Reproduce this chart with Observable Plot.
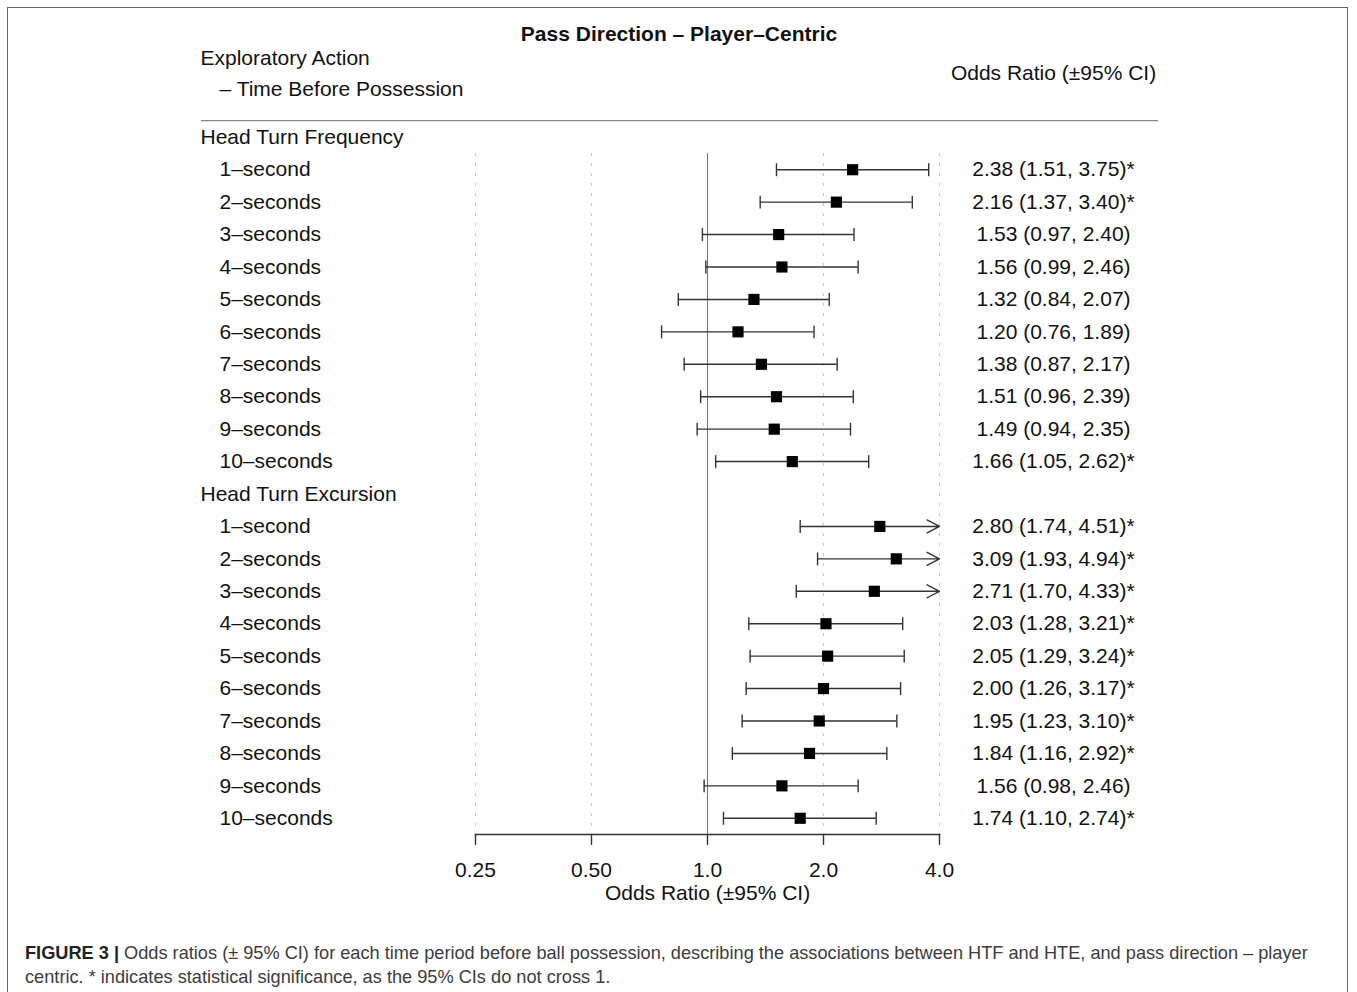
<!DOCTYPE html>
<html>
<head>
<meta charset="utf-8">
<script src="https://cdn.jsdelivr.net/npm/d3@7"></script>
<script src="https://cdn.jsdelivr.net/npm/@observablehq/plot@0.6"></script>
<style>
  html, body { margin: 0; padding: 0; background: #fff; width: 1357px; height: 992px; overflow: hidden; }
  #frame { position: absolute; left: 7px; top: 7px; width: 1341px; height: 1000px; border: 1px solid #666; box-sizing: border-box; }
  #chart { position: absolute; left: 0; top: 0; }
  #caption { position: absolute; left: 25px; top: 941px; font-family: "Liberation Sans", Arial, sans-serif; font-size: 18.2px; line-height: 24px; color: #3c3c3c; white-space: nowrap; }
  #caption b { color: #222; }
</style>
</head>
<body>
<div id="frame"></div>
<div id="chart"></div>
<div id="caption"><b>FIGURE 3 |</b> Odds ratios (± 95% CI) for each time period before ball possession, describing the associations between HTF and HTE, and pass direction – player<br>centric. * indicates statistical significance, as the 95% CIs do not cross 1.</div>
<script>
// ---- Data ----
const title = "Pass Direction – Player–Centric";
const leftHeader = ["Exploratory Action", "– Time Before Possession"];
const rightHeader = "Odds Ratio (±95% CI)";
const groups = ["Head Turn Frequency", "Head Turn Excursion"];
const periods = ["1–second", "2–seconds", "3–seconds", "4–seconds", "5–seconds",
                 "6–seconds", "7–seconds", "8–seconds", "9–seconds", "10–seconds"];
const htfOR    = [2.38, 2.16, 1.53, 1.56, 1.32, 1.20, 1.38, 1.51, 1.49, 1.66];
const htfLower = [1.51, 1.37, 0.97, 0.99, 0.84, 0.76, 0.87, 0.96, 0.94, 1.05];
const htfUpper = [3.75, 3.40, 2.40, 2.46, 2.07, 1.89, 2.17, 2.39, 2.35, 2.62];
const hteOR    = [2.80, 3.09, 2.71, 2.03, 2.05, 2.00, 1.95, 1.84, 1.56, 1.74];
const hteLower = [1.74, 1.93, 1.70, 1.28, 1.29, 1.26, 1.23, 1.16, 0.98, 1.10];
const hteUpper = [4.51, 4.94, 4.33, 3.21, 3.24, 3.17, 3.10, 2.92, 2.46, 2.74];
const xDomain = [0.25, 4];
const tickValues = [0.25, 0.5, 1, 2, 4];
const tickLabels = ["0.25", "0.50", "1.0", "2.0", "4.0"];
const axisTitle = "Odds Ratio (±95% CI)";

// ---- Build rows ----
const series = [
  {group: groups[0], or: htfOR, lo: htfLower, hi: htfUpper},
  {group: groups[1], or: hteOR, lo: hteLower, hi: hteUpper}
];
const headerRows = [];
const dataRows = [];
let idx = 0;
for (const s of series) {
  headerRows.push({i: idx++, label: s.group});
  periods.forEach((p, k) => {
    const or = s.or[k], lo = s.lo[k], hi = s.hi[k];
    const sig = lo > 1 || hi < 1;
    dataRows.push({
      i: idx++, label: p, or, lo, hi,
      truncated: hi > xDomain[1],
      ci: `${or.toFixed(2)} (${lo.toFixed(2)}, ${hi.toFixed(2)})${sig ? "*" : ""}`
    });
  });
}
const nRows = idx;

const capSymbol = {
  draw(ctx, size) {
    const h = Math.sqrt(size) / 2;
    ctx.moveTo(0, -h);
    ctx.lineTo(0, h);
  }
};

const W = 1357, H = 915;
const mL = 475, mR = 418, mT = 153, mB = 81;
const ink = "#333";

const headerLine = (index, scales, values, dims) => {
  const y = scales.y(-0.5);
  return d3.create("svg:line")
    .attr("x1", dims.marginLeft - 274)
    .attr("x2", dims.width - dims.marginRight + 219)
    .attr("y1", y).attr("y2", y)
    .attr("stroke", "#888").attr("stroke-width", 1.2)
    .node();
};

const chart = Plot.plot({
  width: W, height: H,
  marginLeft: mL, marginRight: mR, marginTop: mT, marginBottom: mB,
  style: {fontFamily: "'Liberation Sans', Arial, Helvetica, sans-serif", fontSize: "21px", color: "#111", background: "transparent"},
  x: {type: "log", domain: xDomain},
  y: {domain: [0.5, nRows - 0.5], reverse: true, axis: null},
  marks: [
    // grid
    Plot.ruleX(tickValues.filter(v => v !== 1), {stroke: "#c8c8c8", strokeWidth: 1, strokeDasharray: "3,7"}),
    Plot.ruleX([1], {stroke: "#777", strokeWidth: 1.1}),
    // axis
    Plot.frame({anchor: "bottom", stroke: ink, strokeWidth: 1.4}),
    Plot.axisX({ticks: tickValues, tickFormat: (d) => tickLabels[tickValues.indexOf(d)], tickSize: 11, tickPadding: 17, fontSize: 21, stroke: ink, strokeWidth: 1.4, label: null}),
    Plot.text([axisTitle], {frameAnchor: "bottom", dy: 59, lineAnchor: "middle", fontSize: 21}),
    // CI lines
    Plot.ruleY(dataRows.filter(d => !d.truncated), {y: "i", x1: "lo", x2: "hi", stroke: ink, strokeWidth: 1.4}),
    Plot.arrow(dataRows.filter(d => d.truncated), {x1: "lo", x2: () => xDomain[1], y1: "i", y2: "i", stroke: ink, strokeWidth: 1.4, headLength: 15, headAngle: 55}),
    Plot.dot(dataRows, {x: "lo", y: "i", symbol: capSymbol, r: 7.3, stroke: ink, strokeWidth: 1.4, fill: "none"}),
    Plot.dot(dataRows.filter(d => !d.truncated), {x: "hi", y: "i", symbol: capSymbol, r: 7.3, stroke: ink, strokeWidth: 1.4, fill: "none"}),
    Plot.dot(dataRows, {x: "or", y: "i", symbol: "square", r: 6.3, fill: "#000"}),
    // left labels
    Plot.text(headerRows, {y: "i", text: "label", frameAnchor: "left", dx: -275, textAnchor: "start"}),
    Plot.text(dataRows, {y: "i", text: "label", frameAnchor: "left", dx: -256, textAnchor: "start"}),
    // right column
    Plot.text(dataRows, {y: "i", text: "ci", frameAnchor: "right", dx: 114, textAnchor: "middle"}),
    // headers
    Plot.text([title], {frameAnchor: "top", dx: -28.5, dy: -119, lineAnchor: "middle", fontWeight: "bold"}),
    Plot.text([leftHeader[0]], {frameAnchor: "top-left", dx: -275, dy: -95, textAnchor: "start", lineAnchor: "middle"}),
    Plot.text([leftHeader[1]], {frameAnchor: "top-left", dx: -256, dy: -64, textAnchor: "start", lineAnchor: "middle"}),
    Plot.text([rightHeader], {frameAnchor: "top-right", dx: 114, dy: -80, textAnchor: "middle", lineAnchor: "middle"}),
    headerLine
  ]
});
document.getElementById("chart").appendChild(chart);
</script>
</body>
</html>
